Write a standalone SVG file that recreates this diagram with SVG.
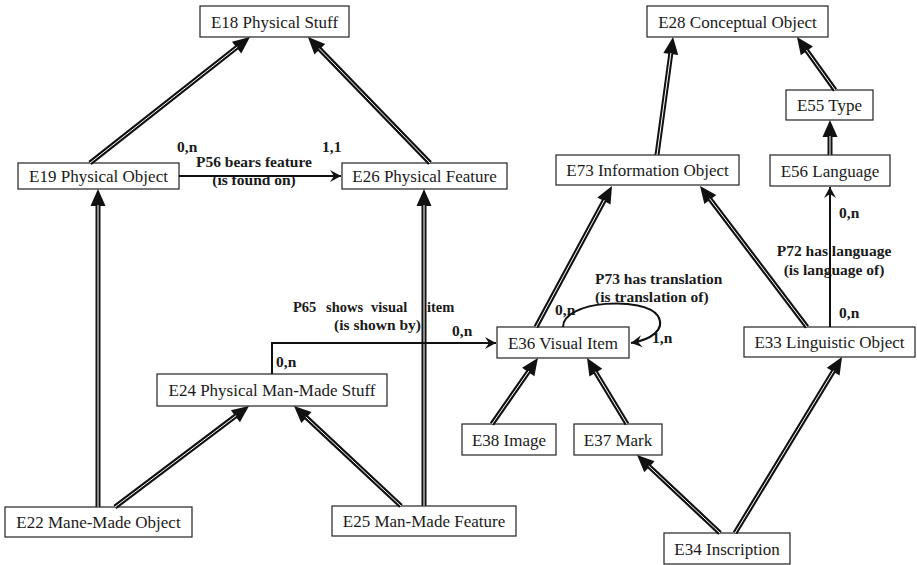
<svg xmlns="http://www.w3.org/2000/svg" width="917" height="565" viewBox="0 0 917 565">
<style>
.box{fill:#fff;stroke:#222;stroke-width:1.2}
.nt{font-family:"Liberation Serif","Times New Roman",serif;font-size:17px;fill:#1a1a1a;text-anchor:middle}
.lb{font-family:"Liberation Serif","Times New Roman",serif;font-size:15.5px;font-weight:bold;fill:#1a1a1a}
.isa{fill:none;stroke:#111;stroke-width:5;marker-end:url(#big)}
.isw{fill:none;stroke:#fff;stroke-width:1}
.as{fill:none;stroke:#111;stroke-width:2;marker-end:url(#small)}
</style>
<defs>
<marker id="big" markerUnits="userSpaceOnUse" orient="auto" refX="0" refY="0" markerWidth="20" markerHeight="20" viewBox="-2 -9 20 18" overflow="visible">
<path d="M-1,-7.5 L16,0 L-1,7.5 z" fill="#111"/>
</marker>
<marker id="small" markerUnits="userSpaceOnUse" orient="auto" refX="0" refY="0" markerWidth="14" markerHeight="14" viewBox="-12 -7 14 14" overflow="visible">
<path d="M-11,-6 L0,0 L-11,6 L-7,0 z" fill="#111"/>
</marker>
</defs>
<g id="E18"><rect class="box" x="200" y="6" width="149" height="31"/><text class="nt" x="274.5" y="28">E18 Physical Stuff</text></g>
<g id="E19"><rect class="box" x="18" y="163" width="161" height="26"/><text class="nt" x="98.5" y="182">E19 Physical Object</text></g>
<g id="E26"><rect class="box" x="342" y="163" width="165" height="26"/><text class="nt" x="424.5" y="182">E26 Physical Feature</text></g>
<g id="E28"><rect class="box" x="647" y="6" width="181" height="31"/><text class="nt" x="737.5" y="28">E28 Conceptual Object</text></g>
<g id="E55"><rect class="box" x="786" y="90" width="87" height="30"/><text class="nt" x="829.5" y="111">E55 Type</text></g>
<g id="E73"><rect class="box" x="556" y="155" width="183" height="30"/><text class="nt" x="647.5" y="176">E73 Information Object</text></g>
<g id="E56"><rect class="box" x="770" y="155" width="120" height="31"/><text class="nt" x="830" y="176.5">E56 Language</text></g>
<g id="E24"><rect class="box" x="157" y="374" width="230" height="32"/><text class="nt" x="272" y="396">E24 Physical Man-Made Stuff</text></g>
<g id="E36"><rect class="box" x="497" y="327" width="132" height="31"/><text class="nt" x="563" y="348.5">E36 Visual Item</text></g>
<g id="E33"><rect class="box" x="744" y="327" width="171" height="30"/><text class="nt" x="829.5" y="348">E33 Linguistic Object</text></g>
<g id="E22"><rect class="box" x="5" y="507" width="187" height="30"/><text class="nt" x="98.5" y="528">E22 Mane-Made Object</text></g>
<g id="E25"><rect class="box" x="332" y="506" width="184" height="30"/><text class="nt" x="424" y="527">E25 Man-Made Feature</text></g>
<g id="E38"><rect class="box" x="462" y="424" width="94" height="31"/><text class="nt" x="509" y="445.5">E38 Image</text></g>
<g id="E37"><rect class="box" x="574" y="424" width="88" height="31"/><text class="nt" x="618" y="445.5">E37 Mark</text></g>
<g id="E34"><rect class="box" x="664" y="533" width="126" height="31"/><text class="nt" x="727" y="554.5">E34 Inscription</text></g>
<g id="labels">
<text class="lb" x="177" y="152">0,n</text>
<text class="lb" x="322" y="152">1,1</text>
<text class="lb" x="254" y="167" text-anchor="middle">P56 bears feature</text>
<text class="lb" x="254" y="185" text-anchor="middle">(is found on)</text>
<text class="lb" y="312" style="font-size:14.5px"><tspan x="293">P65</tspan><tspan x="326">shows</tspan><tspan x="371">visual</tspan><tspan x="427">item</tspan></text>
<text class="lb" x="421" y="330" text-anchor="end">(is shown by)</text>
<text class="lb" x="276" y="367">0,n</text>
<text class="lb" x="452" y="336">0,n</text>
<text class="lb" x="595" y="284">P73 has translation</text>
<text class="lb" x="595" y="302">(is translation of)</text>
<text class="lb" x="555" y="315">0,n</text>
<text class="lb" x="652" y="343">1,n</text>
<text class="lb" x="834" y="256" text-anchor="middle">P72 has language</text>
<text class="lb" x="834" y="275" text-anchor="middle">(is language of)</text>
<text class="lb" x="839" y="218">0,n</text>
<text class="lb" x="839" y="318">0,n</text>
</g>
<g id="connectors">
<path class="isa" d="M90,163 L237.4,46.9"/><path class="isw" d="M90,163 L237.4,46.9"/>
<path class="isa" d="M430,163 L319.1,48.5"/><path class="isw" d="M430,163 L319.1,48.5"/>
<path class="isa" d="M98,507 L98,205"/><path class="isw" d="M98,507 L98,205"/>
<path class="isa" d="M424,506 L424,205"/><path class="isw" d="M424,506 L424,205"/>
<path class="isa" d="M115,507 L236.2,415.6"/><path class="isw" d="M115,507 L236.2,415.6"/>
<path class="isa" d="M401,506 L305.7,416.9"/><path class="isw" d="M401,506 L305.7,416.9"/>
<path class="isa" d="M657,155 L670.9,52.9"/><path class="isw" d="M657,155 L670.9,52.9"/>
<path class="isa" d="M835,90 L806.3,50"/><path class="isw" d="M835,90 L806.3,50"/>
<path class="isa" d="M830,155 L830,136"/><path class="isw" d="M830,155 L830,136"/>
<path class="isa" d="M536,327 L604.4,200.1"/><path class="isw" d="M536,327 L604.4,200.1"/>
<path class="isa" d="M807,327 L709.7,198.7"/><path class="isw" d="M807,327 L709.7,198.7"/>
<path class="isa" d="M492,424 L528.8,371.1"/><path class="isw" d="M492,424 L528.8,371.1"/>
<path class="isa" d="M627,424 L595.3,371.7"/><path class="isw" d="M627,424 L595.3,371.7"/>
<path class="isa" d="M720,533 L648.7,466"/><path class="isw" d="M720,533 L648.7,466"/>
<path class="isa" d="M735,533 L833.7,370.7"/><path class="isw" d="M735,533 L833.7,370.7"/>
<path class="as" d="M179,176 L341,176"/>
<path class="as" d="M272,374 L272,343 L496,343"/>
<path class="as" d="M830,327 L830,187"/>
<path class="as" d="M563,327 C563,300 645,296 658,316 C666,330 650,340 631,343"/>
</g>
</svg>
